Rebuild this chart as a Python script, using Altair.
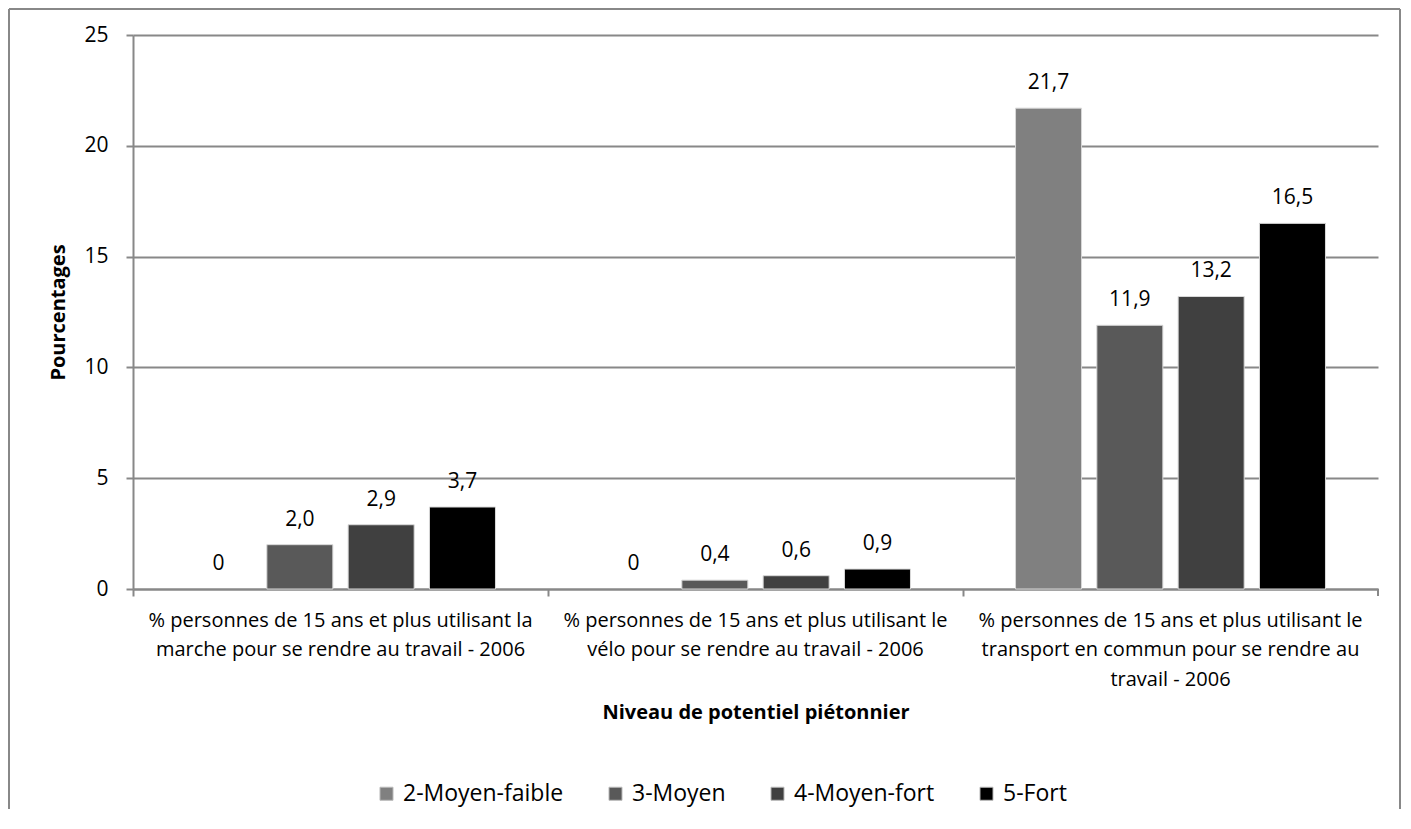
import altair as alt
import pandas as pd

categories = [
    "% personnes de 15 ans et plus utilisant la marche pour se rendre au travail - 2006",
    "% personnes de 15 ans et plus utilisant le vélo pour se rendre au travail - 2006",
    "% personnes de 15 ans et plus utilisant le transport en commun pour se rendre au travail - 2006",
]
cat_lines = [
    ["% personnes de 15 ans et plus utilisant la", "marche pour se rendre au travail - 2006"],
    ["% personnes de 15 ans et plus utilisant le", "vélo pour se rendre au travail - 2006"],
    ["% personnes de 15 ans et plus utilisant le", "transport en commun pour se rendre au", "travail - 2006"],
]
series = ["2-Moyen-faible", "3-Moyen", "4-Moyen-fort", "5-Fort"]
values = {
    "2-Moyen-faible": [0, 0, 21.7],
    "3-Moyen": [2.0, 0.4, 11.9],
    "4-Moyen-fort": [2.9, 0.6, 13.2],
    "5-Fort": [3.7, 0.9, 16.5],
}
labels = {
    "2-Moyen-faible": ["0", "0", "21,7"],
    "3-Moyen": ["2,0", "0,4", "11,9"],
    "4-Moyen-fort": ["2,9", "0,6", "13,2"],
    "5-Fort": ["3,7", "0,9", "16,5"],
}
colors = ["#808080", "#595959", "#404040", "#000000"]

rows = []
for s in series:
    for i, c in enumerate(categories):
        rows.append({"cat": c, "serie": s, "val": values[s][i], "lab": labels[s][i]})
df = pd.DataFrame(rows)

FONT = "Open Sans"
W, H = 1245, 554

label_map = "{" + ",".join(
    f"'{c}': [" + ",".join("'" + l.replace("'", "\\'") + "'" for l in lines) + "]"
    for c, lines in zip(categories, cat_lines)
) + "}"

yscale = alt.Scale(domain=[0, 25], nice=False, zero=True)

x = alt.X("cat:N", sort=categories,
          scale=alt.Scale(paddingInner=0, paddingOuter=0),
          axis=alt.Axis(title="Niveau de potentiel piétonnier", labelAngle=0,
                        bandPosition=0, labelExpr=f"{label_map}[datum.label]",
                        labelFontSize=20, labelLineHeight=29.5, labelPadding=14,
                        labelColor="#000", titleFontSize=20, titleFontWeight="bold",
                        titleColor="#000", titlePadding=13, tickSize=7, tickWidth=2,
                        tickColor="#888", domainColor="#888", domainWidth=2,
                        labelLimit=600, labelBaseline="top"))
xo = alt.XOffset("serie:N", sort=series,
                 scale=alt.Scale(paddingInner=0.188, paddingOuter=0.646))

bars = alt.Chart(df).mark_bar(stroke="#d9d9d9", strokeWidth=1).encode(
    x=x,
    xOffset=xo,
    y=alt.Y("val:Q", scale=yscale,
            axis=alt.Axis(title="Pourcentages", values=[0, 5, 10, 15, 20, 25],
                          labelFontSize=21, labelColor="#000", titleFontSize=20,
                          titleFontWeight="bold", titleColor="#000", titlePadding=15,
                          gridColor="#888", gridWidth=2, tickColor="#888", tickWidth=2,
                          domainColor="#888", domainWidth=2,
                          tickSize=7, labelPadding=18)),
    color=alt.Color("serie:N", sort=series,
                    scale=alt.Scale(domain=series, range=colors),
                    legend=alt.Legend(title=None, orient="none", legendX=242, legendY=747,
                                      direction="horizontal",
                                      symbolType="square", symbolSize=170,
                                      symbolStrokeColor="#bbbbbb", symbolStrokeWidth=1,
                                      labelFontSize=23, labelColor="#000", labelOffset=5,
                                      labelLimit=400,
                                      columnPadding=40, symbolOffset=0)),
    strokeOpacity=alt.condition("datum.val > 0", alt.value(1), alt.value(0)),
)

text = alt.Chart(df).mark_text(dy=-25, fontSize=21, color="#000", font=FONT).encode(
    x=alt.X("cat:N", sort=categories), xOffset=xo,
    y=alt.Y("val:Q", scale=yscale), text="lab:N",
)

endtick = alt.Chart(df).mark_rule(color="#888", strokeWidth=2).encode(
    x=alt.value(W), y=alt.value(H), y2=alt.value(H + 7)
)

one = alt.Data(values=[{"b": 1}])
bx0, bx1, by0, by1 = -124, 1267, -26, 815
border_top = alt.Chart(one).mark_rule(color="#888", strokeWidth=2).encode(
    x=alt.value(bx0), x2=alt.value(bx1), y=alt.value(by0))
border_left = alt.Chart(one).mark_rule(color="#888", strokeWidth=2).encode(
    x=alt.value(bx0), y=alt.value(by0), y2=alt.value(by1))
border_right = alt.Chart(one).mark_rule(color="#888", strokeWidth=2).encode(
    x=alt.value(bx1), y=alt.value(by0), y2=alt.value(by1))

chart = alt.layer(border_top, border_left, border_right, bars, text, endtick).properties(
    width=W, height=H,
    autosize=alt.AutoSizeParams(type="none"),
    padding={"left": 125, "top": 27, "right": 23, "bottom": 220},
).configure(font=FONT).configure_view(stroke=None).configure_axis(labelFont=FONT, titleFont=FONT)

chart.save("out.html", embed_options={"renderer": "svg", "actions": False})
